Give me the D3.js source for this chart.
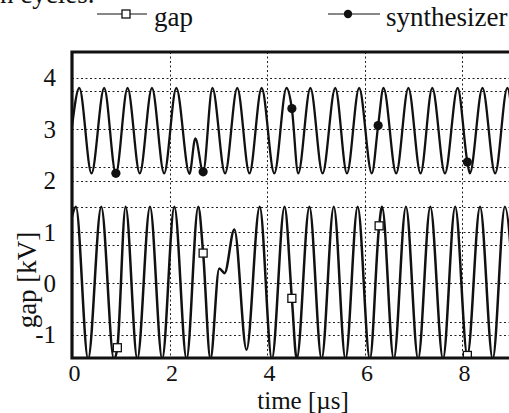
<!DOCTYPE html>
<html>
<head>
<meta charset="utf-8">
<script src="https://cdn.jsdelivr.net/npm/d3@7"></script>
<style>
  html, body { margin: 0; padding: 0; background: #fff; }
  svg { display: block; }
  text { font-family: "Liberation Serif", "Times New Roman", "DejaVu Serif", serif; fill: #111; }
</style>
</head>
<body>
<svg id="chart" width="509" height="413"></svg>
<script>
// ---------- data ----------
// synthesizer trace (upper waveform): time [µs], value [kV]
const synthTime  = [0.00, 0.15, 0.40, 0.66, 0.90, 1.14, 1.39, 1.64, 1.89, 2.14, 2.41, 2.53, 2.69, 2.88, 3.14, 3.39, 3.64, 3.89, 4.15, 4.40, 4.51, 4.64, 4.89, 5.14, 5.40, 5.64, 5.89, 6.15, 6.28, 6.39, 6.65, 6.90, 7.15, 7.39, 7.65, 7.91, 8.11, 8.16, 8.42, 8.68, 8.93, 9.18, 9.43];
const synthValue = [3.05, 3.80, 2.14, 3.80, 2.14, 3.80, 2.14, 3.80, 2.14, 3.80, 2.13, 2.82, 2.17, 3.80, 2.14, 3.80, 2.14, 3.80, 2.14, 3.80, 3.40, 2.14, 3.80, 2.14, 3.80, 2.14, 3.80, 2.14, 3.07, 3.80, 2.14, 3.80, 2.14, 3.80, 2.14, 3.80, 2.36, 2.14, 3.80, 2.14, 3.80, 2.14, 3.80];
// synthesizer markers (filled dots)
const synthMarkTime  = [0.90, 2.69, 4.51, 6.28, 8.11];
const synthMarkValue = [2.14, 2.17, 3.40, 3.07, 2.36];

// gap trace (lower waveform)
const gapTime  = [0.00, 0.08, 0.33, 0.60, 0.86, 0.93, 1.10, 1.34, 1.60, 1.85, 2.10, 2.35, 2.59, 2.69, 2.84, 3.02, 3.13, 3.33, 3.58, 3.85, 4.10, 4.36, 4.51, 4.61, 4.87, 5.12, 5.37, 5.61, 5.86, 6.11, 6.30, 6.36, 6.60, 6.85, 7.10, 7.35, 7.61, 7.86, 8.11, 8.37, 8.63, 8.88, 9.13];
const gapValue = [1.30, 1.49, -1.47, 1.49, -1.47, -1.25, 1.49, -1.47, 1.49, -1.47, 1.49, -1.47, 1.49, 0.59, -1.47, 0.29, 0.20, 1.05, -1.29, 1.49, -1.47, 1.49, -0.29, -1.47, 1.49, -1.47, 1.49, -1.47, 1.49, -1.47, 1.12, 1.49, -1.47, 1.49, -1.47, 1.49, -1.47, 1.49, -1.40, 1.49, -1.47, 1.49, -1.47];
// gap markers (open squares)
const gapMarkTime  = [0.93, 2.69, 4.51, 6.30, 8.11];
const gapMarkValue = [-1.25, 0.59, -0.29, 1.12, -1.40];

// axes
const xTicks = [0, 2, 4, 6, 8];
const yTicks = [4, 3, 2, 1, 0, -1];
const xGrid = [2, 4, 6, 8];
const yGrid = [4, 3.75, 3, 2.27, 2, 1.49, 1, 0.75, 0, -0.75, -1];

const legendLabels = ["gap", "synthesizer"];
const xLabel = "time [µs]";
const yLabel = "gap [kV]";
const topText = "n cycles.";

// ---------- drawing ----------
(function () {
const SERIF = '"Liberation Serif", "Times New Roman", "DejaVu Serif", serif';
const svg = d3.select("#chart");
const x = d3.scaleLinear().domain([0, 10]).range([72, 559.5]);
const y = d3.scaleLinear().domain([-1.45, 4.5]).range([358, 52]);

const pLeft = x(0), pTop = y(4.5), pBottom = y(-1.45), pRight = x(10);

svg.append("defs").append("clipPath").attr("id", "plotclip")
  .append("rect").attr("x", pLeft).attr("y", pTop).attr("width", pRight - pLeft).attr("height", pBottom - pTop);

// stray text from the page above (cut off at the top, as in the scan)
svg.append("text").attr("x", 0).attr("y", 3).attr("font-size", 27).text(topText);

// gridlines
const grid = svg.append("g").attr("stroke", "#222").attr("stroke-width", 1).attr("stroke-dasharray", "2,2.5");
grid.selectAll("line.h").data(yGrid).join("line").attr("class", "h")
  .attr("x1", pLeft).attr("x2", 509).attr("y1", d => Math.round(y(d)) + 0.5).attr("y2", d => Math.round(y(d)) + 0.5);
grid.selectAll("line.v").data(xGrid).join("line").attr("class", "v")
  .attr("x1", d => Math.round(x(d)) + 0.5).attr("x2", d => Math.round(x(d)) + 0.5).attr("y1", pTop).attr("y2", pBottom);

// traces
const line = d3.line().x(d => x(d[0])).y(d => y(d[1])).curve(d3.curveMonotoneX);
const plot = svg.append("g").attr("clip-path", "url(#plotclip)");
const synthData = synthTime.map((t, i) => [t, synthValue[i]]);
const gapData = gapTime.map((t, i) => [t, gapValue[i]]);
plot.append("path").datum(synthData).attr("d", line).attr("fill", "none").attr("stroke", "#111").attr("stroke-width", 2.3).attr("stroke-linejoin", "round");
plot.append("path").datum(gapData).attr("d", line).attr("fill", "none").attr("stroke", "#111").attr("stroke-width", 2.5).attr("stroke-linejoin", "round");

// markers
plot.selectAll("circle.synth").data(synthMarkTime.map((t, i) => [t, synthMarkValue[i]])).join("circle")
  .attr("class", "synth").attr("cx", d => x(d[0])).attr("cy", d => y(d[1])).attr("r", 4.6).attr("fill", "#111");
plot.selectAll("rect.gap").data(gapMarkTime.map((t, i) => [t, gapMarkValue[i]])).join("rect")
  .attr("class", "gap").attr("x", d => x(d[0]) - 4).attr("y", d => y(d[1]) - 4).attr("width", 8).attr("height", 8)
  .attr("fill", "#fff").attr("stroke", "#111").attr("stroke-width", 1.3);

// frame
svg.append("path")
  .attr("d", `M${pRight},${pTop}H${pLeft}V${pBottom}H${pRight}`)
  .attr("fill", "none").attr("stroke", "#111").attr("stroke-width", 3.2);

// axes (labels only)
const xAxis = svg.append("g").attr("transform", `translate(2,${pBottom})`)
  .call(d3.axisBottom(x).tickValues(xTicks).tickSize(0).tickPadding(5).tickFormat(d => String(d)));
xAxis.attr("font-family", SERIF).attr("font-size", 24);
xAxis.select(".domain").remove();
xAxis.selectAll("text").attr("fill", "#111").attr("dy", "0.74em");

const yAxis = svg.append("g").attr("transform", `translate(${pLeft},0)`)
  .call(d3.axisLeft(y).tickValues(yTicks).tickSize(0).tickPadding(16).tickFormat(d => String(d)));
yAxis.attr("font-family", SERIF).attr("font-size", 25);
yAxis.select(".domain").remove();
yAxis.selectAll("text").attr("fill", "#111");

// axis titles
svg.append("text").attr("x", 303).attr("y", 408.5).attr("text-anchor", "middle").attr("font-size", 25).text(xLabel);
svg.append("text").attr("transform", "translate(36,280) rotate(-90)").attr("text-anchor", "middle").attr("font-size", 27).text(yLabel);

// legend
const leg = svg.append("g");
leg.append("line").attr("x1", 97).attr("x2", 147).attr("y1", 14).attr("y2", 14).attr("stroke", "#111").attr("stroke-width", 1);
leg.append("rect").attr("x", 122).attr("y", 10).attr("width", 8).attr("height", 8).attr("fill", "#fff").attr("stroke", "#111").attr("stroke-width", 1.3);
leg.append("text").attr("x", 154).attr("y", 26).attr("font-size", 27).text(legendLabels[0]);
leg.append("line").attr("x1", 328).attr("x2", 380).attr("y1", 14).attr("y2", 14).attr("stroke", "#111").attr("stroke-width", 1);
leg.append("circle").attr("cx", 348).attr("cy", 14).attr("r", 4.2).attr("fill", "#111");
leg.append("text").attr("x", 386).attr("y", 26).attr("font-size", 27).text(legendLabels[1]);
})();
</script>
</body>
</html>
